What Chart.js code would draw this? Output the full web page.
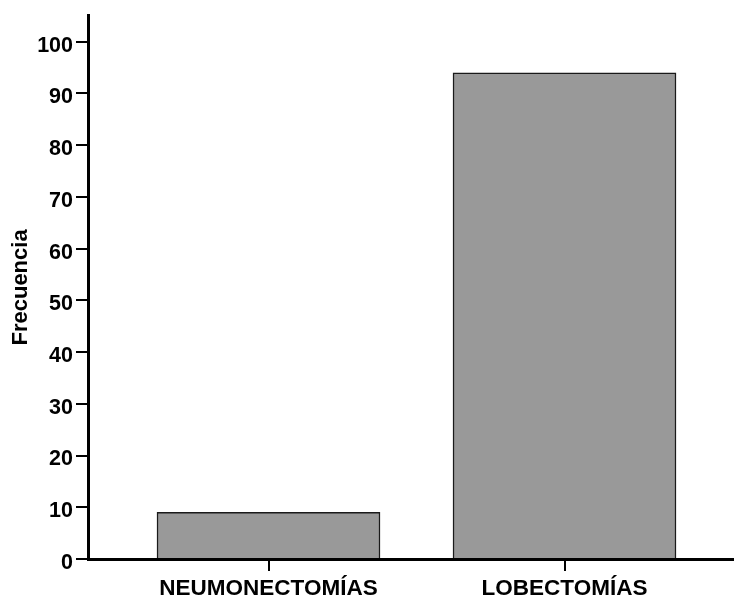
<!DOCTYPE html>
<html>
<head>
<meta charset="utf-8">
<script src="https://cdn.jsdelivr.net/npm/chart.js@4/dist/chart.umd.min.js"></script>
<style>
html,body{margin:0;padding:0;background:#fff;}
#wrap{width:734px;height:598px;}
</style>
</head>
<body>
<div id="wrap"><canvas id="c" width="734" height="598"></canvas></div>
<script>
const categories = ["NEUMONECTOMÍAS", "LOBECTOMÍAS"];
const values = [9, 94];
const yTickValues = [0, 10, 20, 30, 40, 50, 60, 70, 80, 90, 100];
const yMax = 105;
const yTitle = "Frecuencia";

const font = "'Liberation Sans', Arial, Helvetica, sans-serif";

new Chart(document.getElementById('c'), {
  type: 'bar',
  data: {
    datasets: [{
      data: categories.map((c, i) => ({x: i, y: values[i]})),
      backgroundColor: '#999999',
      borderColor: '#1a1a1a',
      borderWidth: 1.5,
      borderSkipped: 'bottom',
      barThickness: 223
    }]
  },
  options: {
    responsive: false,
    devicePixelRatio: 1,
    animation: false,
    layout: {padding: {top: 15, right: 0, left: 0, bottom: 0}},
    plugins: {legend: {display: false}, tooltip: {enabled: false}},
    scales: {
      x: {
        type: 'linear',
        offset: false,
        min: -0.6098,
        max: 1.5726,
        afterBuildTicks: (axis) => { axis.ticks = categories.map((c, i) => ({value: i})); },
        afterFit: (axis) => { axis.height = 39; },
        ticks: {
          callback: (v) => categories[v],
          color: '#000',
          font: {family: font, size: 22.5, weight: 'bold'},
          padding: 4,
          maxRotation: 0,
          autoSkip: false
        },
        grid: {display: true, offset: false, drawOnChartArea: false, drawTicks: true, tickLength: 12, color: '#000', lineWidth: 2},
        border: {display: true, color: '#000', width: 3}
      },
      y: {
        min: 0,
        max: yMax,
        afterBuildTicks: (axis) => { axis.ticks = yTickValues.map(v => ({value: v})); },
        afterFit: (axis) => { axis.width = 88; },
        ticks: {
          color: '#000',
          font: {family: font, size: 21.5, weight: 'bold'},
          padding: 3,
          labelOffset: 4
        },
        title: {
          display: true,
          text: yTitle,
          color: '#000',
          font: {family: font, size: 22, weight: 'bold'},
          padding: {top: 8, bottom: 0}
        },
        grid: {display: true, drawOnChartArea: false, drawTicks: true, tickLength: 12, color: '#000', lineWidth: 2},
        border: {display: true, color: '#000', width: 3}
      }
    }
  }
});
</script>
</body>
</html>
